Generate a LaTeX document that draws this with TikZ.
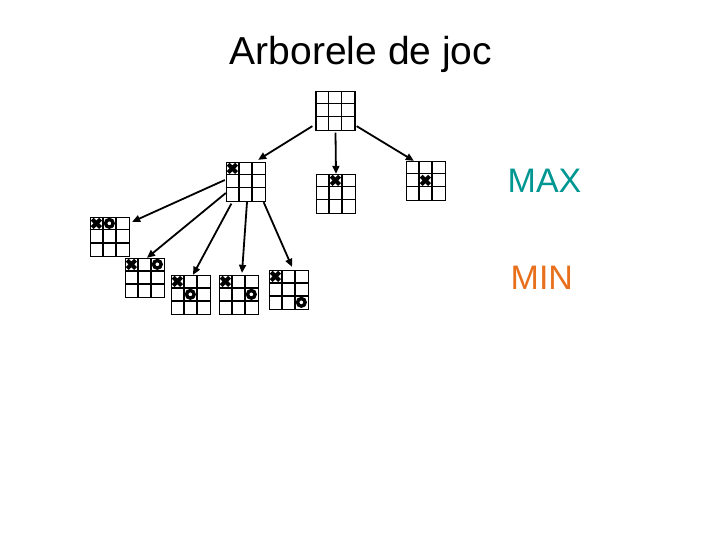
\documentclass[tikz,border=0pt]{standalone}
\usepackage{fontspec}
\setmainfont{Liberation Sans}
\usepackage{xcolor}
\usetikzlibrary{arrows.meta}
\definecolor{maxcol}{RGB}{0,150,145}
\definecolor{mincol}{RGB}{232,112,28}
\tikzset{
  board/.style ={draw, minimum size=39pt, inner sep=0pt, line width=1.3pt},
  gridl/.style ={line width=1.3pt},
  xm/.style    ={line width=4pt},
  om/.style    ={line width=3.4pt, fill=white},
  arr/.style   ={-{Triangle[length=8pt,width=7pt]}, line width=1.8pt},
  lbl/.style   ={anchor=base west, inner sep=0pt, font=\fontsize{34}{40}\selectfont},
}
% board: name, centre
\newcommand{\tttboard}[2]{%
  \node[board] (#1) at (#2) {};
  \draw[gridl] ([xshift=13pt]#1.north west) -- ([xshift=13pt]#1.south west)
               ([xshift=26pt]#1.north west) -- ([xshift=26pt]#1.south west)
               ([yshift=-13pt]#1.north west) -- ([yshift=-13pt]#1.north east)
               ([yshift=-26pt]#1.north west) -- ([yshift=-26pt]#1.north east);
}
% marks: board, column, row
\newcommand{\xmk}[3]{%
  \draw[xm] ([xshift=2.3pt+13pt*#2, yshift=-2.3pt-13pt*#3]#1.north west) -- ++(8.4pt,-8.4pt)
            ([xshift=10.7pt+13pt*#2, yshift=-2.3pt-13pt*#3]#1.north west) -- ++(-8.4pt,-8.4pt);
}
\newcommand{\omk}[3]{%
  \draw[om] ([xshift=6.5pt+13pt*#2, yshift=-6.5pt-13pt*#3]#1.north west) circle[radius=3.8pt];
}
\begin{document}
\begin{tikzpicture}[x=1pt, y=-1pt]
  \useasboundingbox (0,0) rectangle (720,540);
  % title
  \node[anchor=base, inner sep=0pt, font=\fontsize{39}{46}\selectfont] (title) at (361,65) {Arborele de joc};
  % level 0
  \tttboard{root}{335.5,111}
  % level 1 (MAX moves)
  \tttboard{c1}{246,182}
  \tttboard{c2}{336,194}
  \tttboard{c3}{426,181}
  \xmk{c1}{0}{0}
  \xmk{c2}{1}{0}
  \xmk{c3}{1}{1}
  % level 2 (MIN moves)
  \tttboard{g1}{110,237}
  \tttboard{g2}{145,278}
  \tttboard{g3}{191,295}
  \tttboard{g4}{239,295}
  \tttboard{g5}{289,290}
  \foreach \b in {g1,g2,g3,g4,g5} {\xmk{\b}{0}{0}}
  \omk{g1}{1}{0}
  \omk{g2}{2}{0}
  \omk{g3}{1}{1}
  \omk{g4}{2}{1}
  \omk{g5}{2}{2}
  % edges
  \draw[arr] ([xshift=-3pt,yshift=5pt]root.south west) -- ([xshift=-8pt,yshift=2pt]c1.north east);
  \draw[arr] ([yshift=-1.5pt]root.south) -- (c2.north);
  \draw[arr] ([xshift=1pt,yshift=5pt]root.south east) -- ([xshift=8pt]c3.north west);
  \draw[arr] ([xshift=-1pt,yshift=2pt]c1.west) -- ([xshift=2pt,yshift=-5pt]g1.north east);
  \draw[arr] ([yshift=-11pt]c1.west) -- ([xshift=2pt]g2.north);
  \draw[arr] ([xshift=5.5pt,yshift=-1.5pt]c1.south west) -- ([xshift=2pt]g3.north);
  \draw[arr] ([xshift=1pt]c1.south) -- ([xshift=3pt,yshift=2pt]g4.north);
  \draw[arr] ([xshift=-2.5pt]c1.south east) -- ([xshift=3pt,yshift=3pt]g5.north);
  % level labels
  \node[lbl, text=maxcol] (max) at (507.5,193) {MAX};
  \node[lbl, text=mincol] (min) at (510.5,289) {MIN};
\end{tikzpicture}
\end{document}
